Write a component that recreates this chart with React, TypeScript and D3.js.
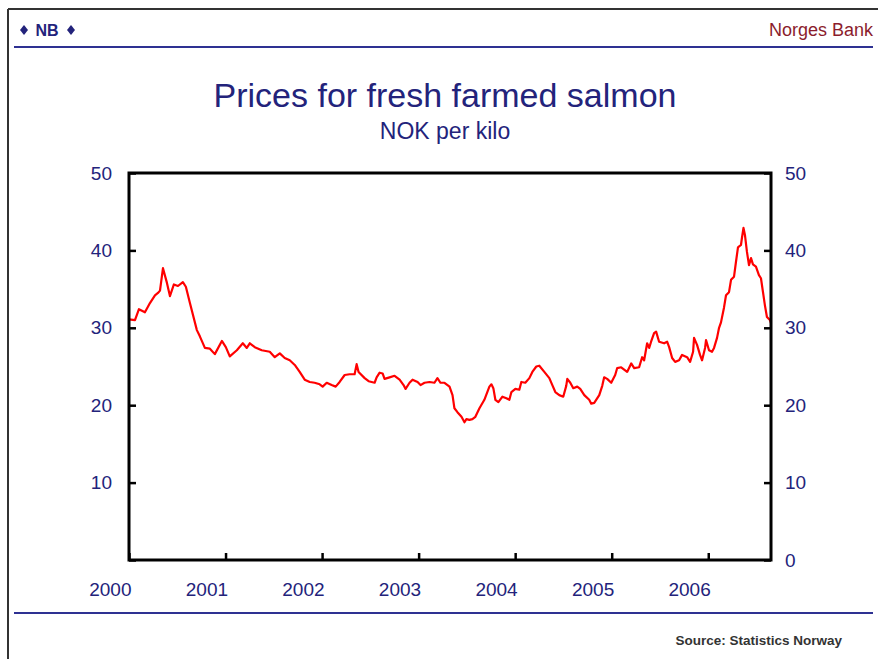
import * as d3 from 'd3';
import { useEffect, useRef } from 'react';

// weekly-ish price readings, decimal year
const dates = [
  2000.0, 2000.062, 2000.103, 2000.165, 2000.217, 2000.269, 2000.3, 2000.321, 2000.352, 2000.393,
  2000.424, 2000.465, 2000.507, 2000.558, 2000.589, 2000.631, 2000.703, 2000.734, 2000.786, 2000.838,
  2000.889, 2000.962, 2001.003, 2001.044, 2001.117, 2001.179, 2001.22, 2001.251, 2001.303, 2001.375,
  2001.458, 2001.51, 2001.562, 2001.613, 2001.665, 2001.717, 2001.768, 2001.82, 2001.872, 2001.923,
  2001.975, 2002.006, 2002.048, 2002.099, 2002.141, 2002.182, 2002.234, 2002.285, 2002.337, 2002.358,
  2002.378, 2002.441, 2002.482, 2002.544, 2002.565, 2002.596, 2002.627, 2002.647, 2002.699, 2002.751,
  2002.803, 2002.844, 2002.865, 2002.906, 2002.937, 2002.989, 2003.02, 2003.061, 2003.113, 2003.164,
  2003.195, 2003.226, 2003.268, 2003.32, 2003.351, 2003.371, 2003.402, 2003.444, 2003.475, 2003.495,
  2003.526, 2003.557, 2003.588, 2003.63, 2003.681, 2003.733, 2003.754, 2003.774, 2003.795, 2003.826,
  2003.868, 2003.909, 2003.94, 2003.961, 2004.002, 2004.043, 2004.064, 2004.105, 2004.147, 2004.178,
  2004.219, 2004.25, 2004.302, 2004.354, 2004.385, 2004.416, 2004.457, 2004.498, 2004.529, 2004.54,
  2004.571, 2004.602, 2004.643, 2004.674, 2004.716, 2004.767, 2004.788, 2004.819, 2004.871, 2004.902,
  2004.922, 2004.953, 2004.995, 2005.036, 2005.057, 2005.098, 2005.129, 2005.16, 2005.202, 2005.233,
  2005.284, 2005.315, 2005.336, 2005.367, 2005.388, 2005.408, 2005.439, 2005.46, 2005.491, 2005.543,
  2005.574, 2005.595, 2005.626, 2005.657, 2005.698, 2005.729, 2005.781, 2005.812, 2005.843, 2005.853,
  2005.884, 2005.915, 2005.936, 2005.967, 2005.977, 2006.008, 2006.039, 2006.06, 2006.091, 2006.112,
  2006.132, 2006.163, 2006.184, 2006.215, 2006.236, 2006.267, 2006.287, 2006.308, 2006.339, 2006.349,
  2006.365, 2006.38, 2006.401, 2006.422, 2006.443, 2006.463, 2006.494, 2006.525, 2006.546, 2006.567,
  2006.587, 2006.608, 2006.639, 2006.65,
];

const prices = [
  31.1, 31.0, 32.4, 32.0, 33.2, 34.2, 34.5, 34.8, 37.7, 35.8,
  34.1, 35.6, 35.4, 35.9, 35.3, 33.2, 29.7, 28.9, 27.4, 27.3,
  26.6, 28.3, 27.5, 26.3, 27.1, 28.0, 27.4, 28.0, 27.5, 27.1,
  26.9, 26.2, 26.7, 26.1, 25.8, 25.2, 24.3, 23.3, 23.0, 22.9,
  22.7, 22.4, 22.9, 22.6, 22.4, 23.0, 23.9, 24.0, 24.0, 25.3,
  24.3, 23.5, 23.1, 22.9, 23.6, 24.2, 24.1, 23.4, 23.6, 23.8,
  23.3, 22.6, 22.1, 22.9, 23.3, 23.0, 22.6, 22.9, 23.0, 22.9,
  23.5, 22.9, 22.9, 22.4, 21.3, 19.6, 19.1, 18.5, 17.8, 18.2,
  18.1, 18.2, 18.5, 19.6, 20.7, 22.4, 22.7, 22.2, 20.7, 20.4,
  21.1, 20.9, 20.7, 21.7, 22.1, 22.0, 23.0, 22.9, 23.5, 24.3,
  25.0, 25.1, 24.3, 23.5, 22.6, 21.7, 21.3, 21.1, 22.5, 23.4,
  22.9, 22.2, 22.4, 22.1, 21.3, 20.7, 20.2, 20.3, 21.3, 22.5,
  23.6, 23.4, 22.9, 23.9, 24.8, 24.9, 24.6, 24.3, 25.4, 24.8,
  24.9, 26.2, 25.8, 28.0, 27.4, 28.2, 29.3, 29.5, 28.2, 28.0,
  28.2, 27.5, 26.1, 25.6, 25.8, 26.5, 26.2, 25.6, 26.9, 28.7,
  27.8, 26.5, 25.8, 27.4, 28.4, 27.1, 26.9, 27.4, 28.7, 30.0,
  30.7, 32.6, 34.2, 34.6, 36.2, 36.6, 38.5, 40.4, 40.7, 41.6,
  42.9, 42.0, 39.8, 38.1, 39.0, 38.2, 37.9, 36.8, 36.4, 34.6,
  32.9, 31.4, 31.0, 30.6,
];

const yTicks = [0, 10, 20, 30, 40, 50];
const xTicks = [2000, 2001, 2002, 2003, 2004, 2005, 2006];

const NAVY = '#23237b';
const FONT = '"Liberation Sans", Arial, sans-serif';

export default function App() {
  const svgRef = useRef<SVGSVGElement | null>(null);

  useEffect(() => {
    if (!svgRef.current) return;
    const svg = d3.select(svgRef.current);
    svg.selectAll('.chart').remove();
    const g = svg.append('g').attr('class', 'chart');

    const left = 129, right = 771, top = 173, bottom = 560;

    const x = d3.scaleLinear().domain([2000, 2006.65]).range([left, right]);
    const y = d3.scaleLinear().domain([0, 50]).range([bottom, top]);

    // left axis, inward ticks, no label at 0
    const yLeft = g.append('g')
      .attr('transform', `translate(${left},0)`)
      .call(d3.axisLeft(y).tickValues(yTicks).tickSize(-7).tickPadding(17)
        .tickFormat(d => (d === 0 ? '' : String(d))));

    const yRight = g.append('g')
      .attr('transform', `translate(${right},0)`)
      .call(d3.axisRight(y).tickValues(yTicks).tickSize(-7).tickPadding(14)
        .tickFormat(d => String(d)));

    const xAxis = g.append('g')
      .attr('transform', `translate(0,${bottom})`)
      .call(d3.axisBottom(x).tickValues(xTicks).tickSize(-7).tickPadding(23)
        .tickFormat(d => String(d)));

    [yLeft, yRight, xAxis].forEach(a => {
      a.select('.domain').remove();
      a.selectAll('line').attr('stroke', '#000').attr('stroke-width', 2.5);
      a.selectAll('text')
        .attr('fill', NAVY)
        .style('font-family', FONT)
        .style('font-size', '19px');
    });
    xAxis.selectAll('text').attr('text-anchor', 'end').attr('dx', '2');

    // price line
    const line = d3.line<number>()
      .x((_, i) => x(dates[i]))
      .y(d => y(d));

    g.append('path')
      .datum(prices)
      .attr('fill', 'none')
      .attr('stroke', '#ff0000')
      .attr('stroke-width', 2.2)
      .attr('stroke-linejoin', 'round')
      .attr('d', line);

    // plot frame
    g.append('rect')
      .attr('x', left).attr('y', top)
      .attr('width', right - left).attr('height', bottom - top)
      .attr('fill', 'none')
      .attr('stroke', '#000')
      .attr('stroke-width', 3);
  }, []);

  return (
    <div style={{ position: 'absolute', left: 0, top: 0 }}>
      <svg ref={svgRef} width={878} height={659} style={{ display: 'block', background: '#fff' }}>
        {/* outer frame */}
        <line x1={8} y1={9} x2={878} y2={9} stroke="#333" strokeWidth={2} />
        <line x1={8} y1={9} x2={8} y2={659} stroke="#333" strokeWidth={2} />

        {/* header */}
        <g fill={NAVY}>
          <path d="M20 30 l4 -5 l4 5 l-4 5 z" />
          <path d="M67 30 l4 -5 l4 5 l-4 5 z" />
        </g>
        <text x={47} y={36} textAnchor="middle" fill={NAVY} fontFamily={FONT} fontWeight="bold" fontSize={16}>NB</text>
        <text x={873} y={36} textAnchor="end" fill="#8b1c2c" fontFamily={FONT} fontSize={18}>Norges Bank</text>
        <line x1={14} y1={47} x2={873} y2={47} stroke="#2e3192" strokeWidth={2} />

        <text x={445} y={107} textAnchor="middle" fill={NAVY} fontFamily={FONT} fontSize={34}>Prices for fresh farmed salmon</text>
        <text x={445} y={139} textAnchor="middle" fill={NAVY} fontFamily={FONT} fontSize={23}>NOK per kilo</text>

        {/* footer */}
        <line x1={14} y1={613} x2={873} y2={613} stroke="#2e3192" strokeWidth={2} />
        <text x={842} y={645} textAnchor="end" fill="#333" fontFamily={FONT} fontWeight="bold" fontSize={13.5}>Source: Statistics Norway</text>
      </svg>
    </div>
  );
}
